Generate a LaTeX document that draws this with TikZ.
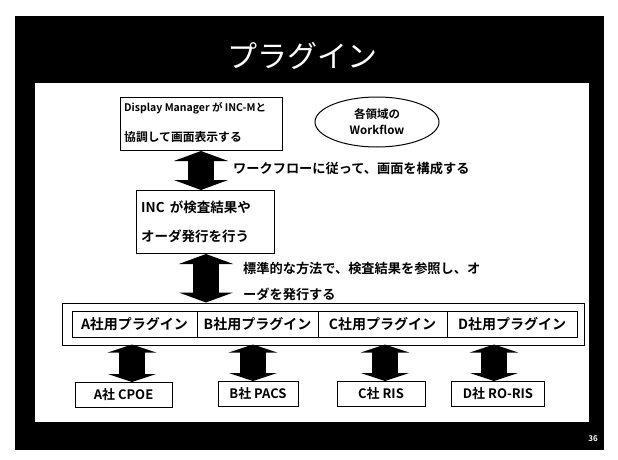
\documentclass[tikz,border=0pt]{standalone}
\usepackage{fontspec}
\setmainfont{Noto Sans CJK JP}[BoldFont={* Bold}]
\newfontfamily\jpbold{Noto Sans CJK JP Bold}
\usetikzlibrary{arrows.meta,shapes.geometric,calc}
\tikzset{
  box/.style={draw=black, line width=1pt, fill=white, inner sep=0pt},
  txt/.style={font=\jpbold\fontsize{13.2}{14}\selectfont, inner sep=0pt, anchor=west},
  fat/.style={line width=26pt, draw=black,
    {Triangle[width=54pt 0 0,length=10pt 0 0]}-{Triangle[width=54pt 0 0,length=10pt 0 0]}},
  small/.style={line width=26pt, draw=black,
    {Triangle[width=48pt 0 0,length=8pt 0 0]}-{Triangle[width=48pt 0 0,length=8pt 0 0]}},
}
\begin{document}
\begin{tikzpicture}[x=1pt,y=-1pt]
\useasboundingbox (0,0) rectangle (618,460);
\fill[white] (0,0) rectangle (618,460);
% slide frame
\fill[black] (15,16) rectangle (604,450);
\fill[white] (35,83) rectangle (589,422);
\node[text=white, font=\fontsize{30}{32}\selectfont] (title) at (302,56) {プラグイン};
\node[text=white, font=\jpbold\fontsize{8}{9}\selectfont] (pg) at (593,439) {36};
% top box
\node[box, minimum width=162pt, minimum height=53pt] (dm) at (201,124) {};
\node[txt, font=\jpbold\fontsize{10.5}{12}\selectfont] (dm1) at (124,108) {Display Manager が INC-Mと};
\node[txt, font=\jpbold\fontsize{11.8}{12}\selectfont] (dm2) at (124,137) {協調して画面表示する};
% ellipse
\node[ellipse, draw=black, line width=1pt, minimum width=124pt, minimum height=50pt,
      align=center, font=\jpbold\fontsize{11.5}{16}\selectfont] (wf) at (377,122) {各領域の\\Workflow};
% INC box
\node[box, minimum width=138pt, minimum height=63pt] (inc) at (205,222) {};
\node[txt, font=\jpbold\fontsize{13.5}{14}\selectfont] (inc1) at (141,207) {INC\, が検査結果や};
\node[txt, font=\jpbold\fontsize{13.5}{14}\selectfont] (inc2) at (141,236) {オーダ発行を行う};
% arrows top
\draw[fat] (dm.south) -- (dm.south |- inc.north);
\node[txt] (l1) at (233,169) {ワークフローに従って、画面を構成する};
% plugin frame
\node[box, minimum width=522pt, minimum height=42pt] (frame) at (323,324) {};
\tikzset{plug/.style={box, minimum height=26pt, font=\jpbold\fontsize{14}{15}\selectfont}}
\node[plug, minimum width=125pt] (pa) at (134.5,324) {A社用プラグイン};
\node[plug, minimum width=121pt] (pb) at (257.5,324) {B社用プラグイン};
\node[plug, minimum width=129pt] (pc) at (382.5,324) {C社用プラグイン};
\node[plug, minimum width=130pt] (pd) at (512,324) {D社用プラグイン};
\draw[fat] ([xshift=1pt]inc.south) -- ([xshift=1pt]inc.south |- frame.north);
\node[txt] (l2a) at (243,269) {標準的な方法で、検査結果を参照し、オ};
\node[txt] (l2b) at (243,294) {ーダを発行する};
% bottom boxes
\tikzset{sys/.style={box, minimum height=25pt, font=\jpbold\fontsize{13}{14}\selectfont}}
\node[sys, minimum width=97pt] (sa) at (123.5,395) {A社 CPOE};
\node[sys, minimum width=80pt] (sb) at (258,394) {B社 PACS};
\node[sys, minimum width=88pt] (sc) at (381,394) {C社 RIS};
\node[sys, minimum width=93pt] (sd) at (498,394) {D社 RO-RIS};
\coordinate (ta) at (132,346);
\coordinate (tb) at (253,346);
\coordinate (tc) at (385,346);
\coordinate (td) at (494,346);
\draw[small] ([yshift=1pt]frame.south -| ta) -- (sa.north -| ta);
\draw[small] ([yshift=1pt]frame.south -| tb) -- (sb.north -| tb);
\draw[small] ([yshift=1pt]frame.south -| tc) -- (sc.north -| tc);
\draw[small] ([yshift=1pt]frame.south -| td) -- (sd.north -| td);
\end{tikzpicture}
\end{document}
